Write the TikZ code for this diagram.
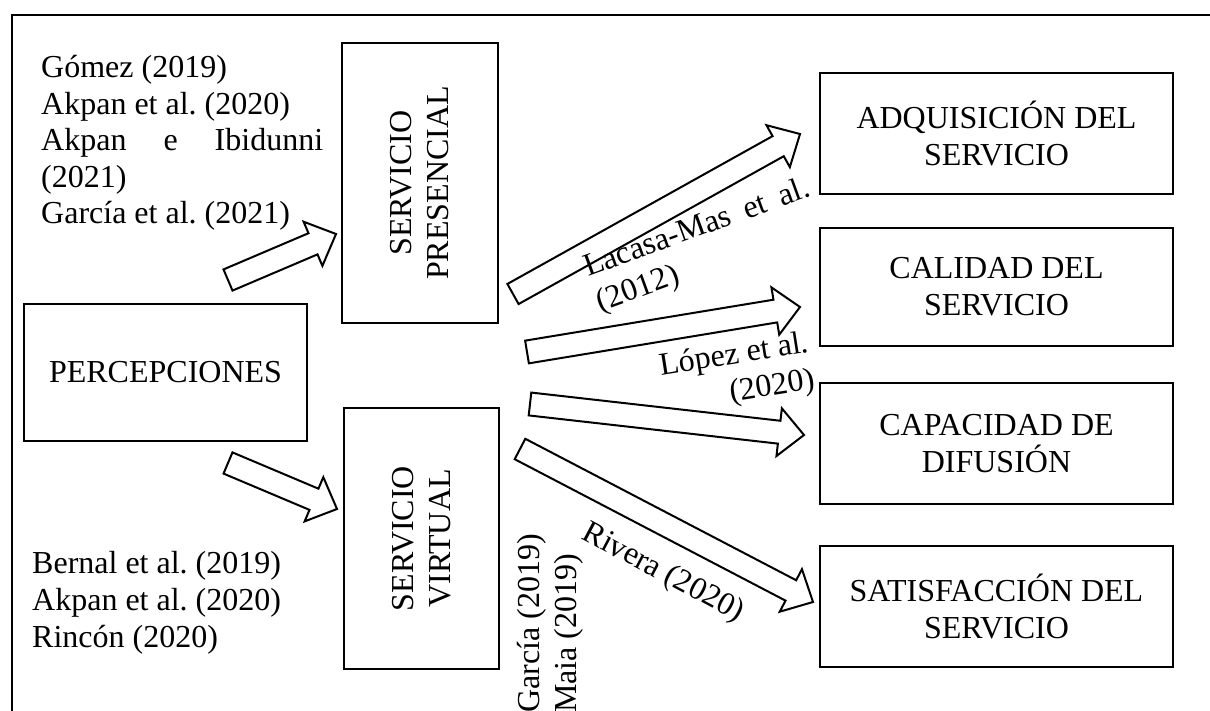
\documentclass[tikz,border=0pt]{standalone}
\usepackage{fontspec}
\setmainfont{Liberation Serif}
\usetikzlibrary{calc}
\frenchspacing
\newcommand{\blkarrow}[2]{%
  \coordinate (bah) at ($(#2)!25pt!(#1)$);
  \draw[blockarrow] ($(#1)!11.5pt!90:(#2)$) -- ($(bah)!11.5pt!90:(#2)$) -- ($(bah)!24pt!90:(#2)$) -- (#2)
     -- ($(bah)!24pt!-90:(#2)$) -- ($(bah)!11.5pt!-90:(#2)$) -- ($(#1)!11.5pt!-90:(#2)$) -- cycle;
}
\begin{document}
\begin{tikzpicture}[x=1pt,y=1pt,
  txt/.style={font={\fontsize{32}{37}\selectfont\frenchspacing}, inner sep=0pt},
  box/.style={draw, line width=2.4pt, font={\fontsize{32}{37}\selectfont}, align=center, inner sep=0pt},
  blockarrow/.style={draw, fill=white, line width=2pt, line join=miter},
  frame/.style={draw, line width=2.6pt}]
\useasboundingbox (0,0) rectangle (1210,-711);
\draw[frame] (12,-720) -- (12,-15) -- (1220,-15);

% boxes
\node[box, minimum width=283pt, minimum height=137pt] (perc) at (165.5,-372.5) {PERCEPCIONES};
\node[box, rotate=90, minimum width=280pt, minimum height=156pt] (pres) at (420,-183) {SERVICIO\\PRESENCIAL};
\node[box, rotate=90, minimum width=261pt, minimum height=155pt] (virt) at (421.5,-538.5) {SERVICIO\\VIRTUAL};
\node[box, minimum width=353pt, minimum height=121pt] (adq) at (996.5,-133.3) {ADQUISICIÓN DEL\\SERVICIO};
\node[box, minimum width=353pt, minimum height=118pt] (cal) at (996.5,-287) {CALIDAD DEL\\SERVICIO};
\node[box, minimum width=353pt, minimum height=121pt] (cap) at (996.5,-443.5) {CAPACIDAD DE\\DIFUSIÓN};
\node[box, minimum width=353pt, minimum height=121pt] (sat) at (996.5,-606.5) {SATISFACCIÓN DEL\\SERVICIO};

% arrows
\coordinate (aP0) at (228,-280); \coordinate (aP1) at (336,-234);
\coordinate (aV0) at (228,-463); \coordinate (aV1) at (337,-509);
\coordinate (aA0) at (513,-294); \coordinate (aA1) at (800,-134);
\coordinate (aB0) at (527,-352); \coordinate (aB1) at (800,-307);
\coordinate (aC0) at (530,-404); \coordinate (aC1) at (804,-435);
\coordinate (aD0) at (520,-449); \coordinate (aD1) at (813,-602);
\blkarrow{aP0}{aP1}
\blkarrow{aV0}{aV1}
\blkarrow{aA0}{aA1}
\blkarrow{aB0}{aB1}
\blkarrow{aC0}{aC1}
\blkarrow{aD0}{aD1}

% left texts
\node[txt, anchor=base west] (t1) at (41,-78) {Gómez (2019)};
\node[txt, anchor=base west] (t2) at (41,-114.5) {Akpan et al. (2020)};
\node[txt, anchor=base west] (t3) at (41,-151) {\hbox to 282pt{Akpan\hfill e\hfill Ibidunni}};
\node[txt, anchor=base west] (t4) at (41,-187.5) {(2021)};
\node[txt, anchor=base west] (t5) at (41,-224) {García et al. (2021)};

\node[txt, anchor=base west] (b1) at (32,-573) {Bernal et al. (2019)};
\node[txt, anchor=base west] (b2) at (32,-610) {Akpan et al. (2020)};
\node[txt, anchor=base west] (b3) at (32,-647) {Rincón (2020)};

% arrow labels
\node[txt, anchor=base west, rotate=20] (lac1) at (588,-277) {\hbox to 238pt{Lacasa-Mas\hfill et\hfill al.}};
\node[txt, anchor=base west, rotate=20] (lac2) at ($(lac1.base west)+(-70:37)$) {(2012)};
\node[txt, anchor=base east, rotate=9] (lop1) at (810,-352) {López et al.};
\node[txt, anchor=base east, rotate=9] (lop2) at ($(lop1.base east)+(-81:37)$) {(2020)};
\node[txt, anchor=base west, rotate=-28] (riv) at (580,-538) {Rivera (2020)};
\node[txt, anchor=base west, rotate=90] (gar) at (539,-713) {García (2019)};
\node[txt, anchor=base west, rotate=90] (maia) at (576,-713) {Maia (2019)};
\end{tikzpicture}
\end{document}
